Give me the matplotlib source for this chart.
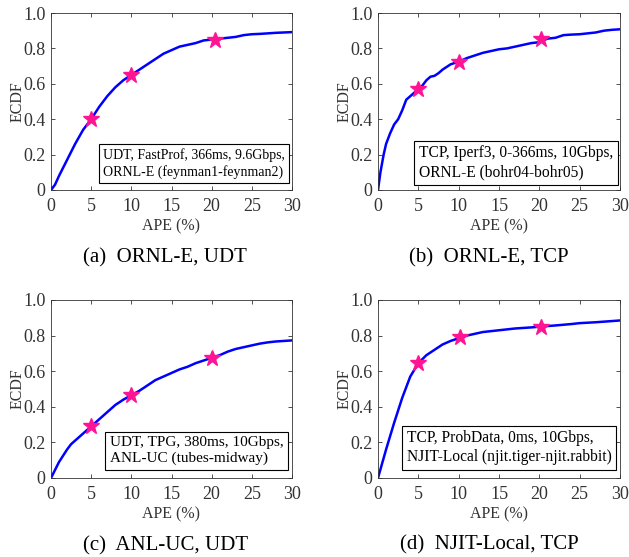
import numpy as np
import matplotlib.pyplot as plt

plt.rcParams['font.family'] = ['Liberation Serif', 'DejaVu Serif']
plt.rcParams['mathtext.fontset'] = 'stix'

# (a) ORNL-E, UDT
ape_a = [0, 0.5, 1, 2, 3, 4, 5, 6, 7, 8, 9, 10, 11, 12, 13, 14, 15, 16, 17, 18,
         19, 20, 21, 22, 23, 24, 25, 26, 27, 28, 29, 30]
ecdf_a = [0, 0.03, 0.08, 0.17, 0.26, 0.34, 0.40, 0.47, 0.53, 0.58, 0.62, 0.65,
          0.68, 0.71, 0.74, 0.77, 0.79, 0.81, 0.82, 0.83, 0.845, 0.85, 0.855,
          0.86, 0.865, 0.875, 0.88, 0.882, 0.885, 0.888, 0.89, 0.892]
star_x_a = [5, 10, 20.4]
star_y_a = [0.40, 0.65, 0.85]

# (b) ORNL-E, TCP
ape_b = [0, 0.3, 0.7, 1.0, 1.5, 2, 2.5, 3, 3.5, 4, 4.5, 5, 5.5, 6, 6.5, 7, 7.5,
         8, 9, 10, 11, 12, 13, 14, 15, 16, 17, 18, 19, 20, 21, 22, 23, 24, 25,
         26, 27, 28, 29, 30]
ecdf_b = [0, 0.1, 0.2, 0.26, 0.32, 0.37, 0.40, 0.45, 0.51, 0.53, 0.55, 0.57,
          0.59, 0.62, 0.64, 0.645, 0.66, 0.68, 0.71, 0.725, 0.745, 0.76, 0.775,
          0.785, 0.795, 0.80, 0.81, 0.82, 0.83, 0.835, 0.855, 0.86, 0.875,
          0.878, 0.88, 0.885, 0.89, 0.90, 0.905, 0.908]
star_x_b = [5, 10, 20.2]
star_y_b = [0.57, 0.725, 0.855]

# (c) ANL-UC, UDT
ape_c = [0, 1, 2, 2.5, 3, 4, 5, 6, 7, 8, 9, 10, 11, 12, 13, 14, 15, 16, 17, 18,
         19, 20, 21, 22, 23, 24, 25, 26, 27, 28, 29, 30]
ecdf_c = [0, 0.09, 0.16, 0.19, 0.21, 0.25, 0.29, 0.33, 0.37, 0.41, 0.44,
          0.465, 0.49, 0.52, 0.55, 0.57, 0.59, 0.61, 0.625, 0.645, 0.66, 0.675,
          0.69, 0.71, 0.725, 0.735, 0.745, 0.755, 0.762, 0.767, 0.77, 0.773]
star_x_c = [5, 10, 20]
star_y_c = [0.29, 0.465, 0.675]

# (d) NJIT-Local, TCP
ape_d = [0, 0.5, 1, 2, 3, 4, 5, 6, 7, 8, 9, 10, 11, 12, 13, 14, 15, 16, 17, 18,
         19, 20, 22, 24, 25, 27, 30]
ecdf_d = [0, 0.08, 0.16, 0.31, 0.45, 0.57, 0.645, 0.69, 0.72, 0.75, 0.77,
          0.785, 0.80, 0.81, 0.82, 0.825, 0.83, 0.835, 0.84, 0.843, 0.846,
          0.85, 0.857, 0.865, 0.87, 0.875, 0.885]
star_x_d = [5, 10.2, 20.2]
star_y_d = [0.645, 0.79, 0.85]

labels = [
    'UDT, FastProf, 366ms, 9.6Gbps,\nORNL-E (feynman1-feynman2)',
    'TCP, Iperf3, 0-366ms, 10Gbps,\nORNL-E (bohr04-bohr05)',
    'UDT, TPG, 380ms, 10Gbps,\nANL-UC (tubes-midway)',
    'TCP, ProbData, 0ms, 10Gbps,\nNJIT-Local (njit.tiger-njit.rabbit)',
]
label_fs = [10, 11.2, 11, 11.2]
captions = ['(a)  ORNL-E, UDT', '(b)  ORNL-E, TCP',
            '(c)  ANL-UC, UDT', '(d)  NJIT-Local, TCP']

W, H = 629, 557
fig = plt.figure(figsize=(W / 100, H / 100), dpi=100)

# axes rectangles in pixels: left, top, right, bottom
boxes = [(51, 13, 292, 190), (378, 13, 620, 190),
         (51, 300, 292, 478), (378, 300, 620, 478)]
# gap (px) between text box and axes right / bottom
box_gap = [(3, 7), (2, 5), (4, 8), (4, 8)]
cap_pos = [(165, 258), (489, 258), (166, 546), (489, 545)]
data = [(ape_a, ecdf_a, star_x_a, star_y_a), (ape_b, ecdf_b, star_x_b, star_y_b),
        (ape_c, ecdf_c, star_x_c, star_y_c), (ape_d, ecdf_d, star_x_d, star_y_d)]

gray = '#333333'
for i, (l, t, r, b) in enumerate(boxes):
    ax = fig.add_axes([l / W, 1 - b / H, (r - l) / W, (b - t) / H])
    x, y, sx, sy = data[i]
    ax.plot(x, y, color='#0000ff', lw=1.8)
    ax.plot(sx, sy, ls='none', marker='*', ms=12, color='#ff1493',
            markeredgecolor='#ff1493')
    ax.set_xlim(0, 30)
    ax.set_ylim(0, 1)
    ax.set_xticks([0, 5, 10, 15, 20, 25, 30])
    ax.set_yticks([0, 0.2, 0.4, 0.6, 0.8, 1.0])
    ax.set_yticklabels(['0', '0.2', '0.4', '0.6', '0.8', '1.0'])
    ax.tick_params(direction='in', top=True, right=True, labelsize=13,
                   colors=gray, length=3, width=0.6)
    ax.tick_params(axis='x', pad=6)
    ax.tick_params(axis='y', pad=4)
    for s in ax.spines.values():
        s.set_color(gray)
        s.set_linewidth(0.6)
    ax.set_xlabel('APE (%)', fontsize=11.5, color=gray, labelpad=2)
    ax.set_ylabel('ECDF', fontsize=11.5, color=gray, labelpad=-2)
    fs = label_fs[i]
    pad_px = 0.3 * fs * 100 / 72
    gx, gy = box_gap[i]
    ax.annotate(labels[i], xy=(1, 0), xycoords='axes fraction',
                xytext=(-(gx + pad_px), gy + pad_px), textcoords='offset pixels',
                ha='right', va='bottom', multialignment='left', fontsize=fs,
                linespacing=1.25,
                bbox=dict(boxstyle='square,pad=0.3', fc='white', ec='black',
                          lw=0.8))
    fig.text(cap_pos[i][0] / W, 1 - cap_pos[i][1] / H, captions[i],
             ha='center', va='center', fontsize=15)

fig.savefig('out.png', dpi=100)
